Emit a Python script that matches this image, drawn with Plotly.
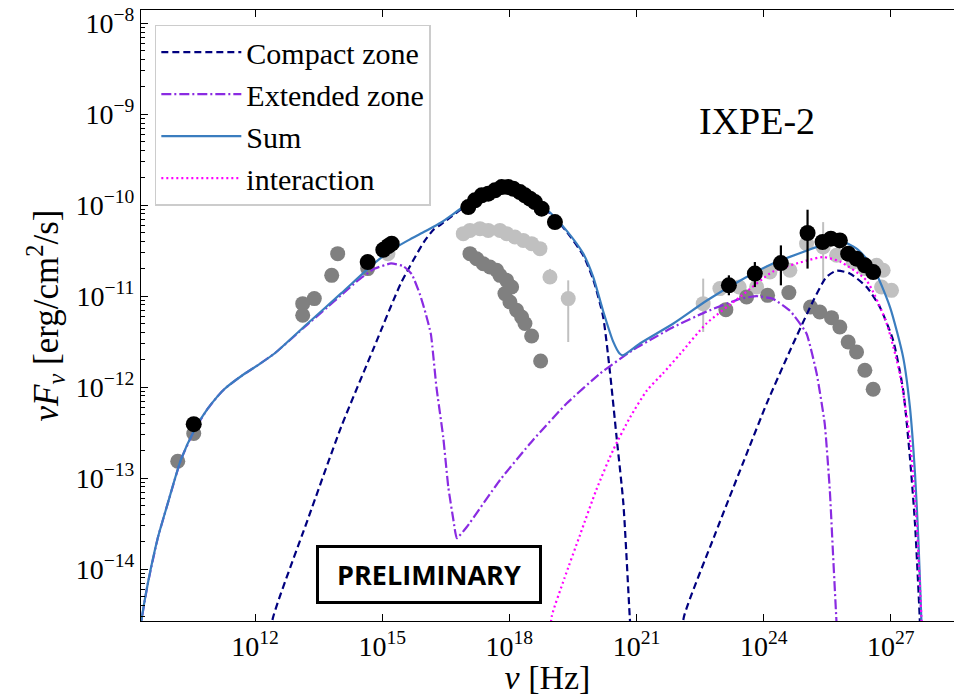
import numpy as np
import plotly.graph_objects as go

# ---- model curves (log10 nu [Hz], log10 nuFnu [erg/cm^2/s]) ----
compact_sy_lognu = [12.35, 12.42, 13.24, 14.03, 14.81, 15.44, 15.99, 16.21, 16.39, 16.91, 17.30, 17.80,
                    18.20, 18.60, 18.96, 19.35, 19.74, 19.98, 20.21, 20.37, 20.53, 20.69, 20.84, 20.88]
compact_sy_logf = [-14.80, -14.54, -13.46, -12.44, -11.56, -10.86, -10.40, -10.27, -10.21, -10.03, -9.92, -9.85,
                   -9.87, -9.96, -10.09, -10.29, -10.55, -10.82, -11.22, -11.82, -12.55, -13.28, -14.52, -14.80]

compact_ic_lognu = [22.05, 22.12, 22.85, 23.60, 24.08, 24.62, 25.17, 25.48, 25.72, 26.03, 26.43, 26.74,
                    27.05, 27.29, 27.45, 27.57, 27.68, 27.70]
compact_ic_logf = [-14.80, -14.52, -13.62, -12.73, -12.17, -11.60, -11.05, -10.79, -10.72, -10.75, -10.90, -11.12,
                   -11.48, -12.03, -12.77, -13.50, -14.52, -14.80]

extended_lognu = [9.25, 9.31, 9.47, 9.71, 9.94, 10.25, 10.57, 10.88, 11.10, 11.28, 11.67, 12.06, 12.46, 13.24,
                  13.71, 14.03, 14.42, 14.81, 15.21, 15.50, 15.70, 15.89, 16.02, 16.15, 16.28, 16.44, 16.56,
                  16.68, 16.76, 16.99, 17.78, 18.56, 19.35, 20.14, 20.92, 21.87, 22.65, 23.44, 23.83, 24.22,
                  24.62, 25.01, 25.25, 25.44, 25.56, 25.64, 25.72]
extended_logf = [-14.90, -14.60, -14.16, -13.65, -13.28, -12.80, -12.47, -12.24, -12.11, -12.02, -11.88, -11.76,
                 -11.63, -11.31, -11.12, -10.99, -10.83, -10.70, -10.64, -10.67, -10.76, -10.98, -11.18, -11.42,
                 -12.00, -12.55, -13.10, -13.46, -13.66, -13.54, -13.02, -12.58, -12.18, -11.85, -11.59, -11.34,
                 -11.17, -11.03, -11.00, -11.03, -11.16, -11.41, -11.85, -12.40, -13.13, -13.87, -14.60]

sum_lognu = [9.25, 9.31, 9.47, 9.71, 9.94, 10.25, 10.57, 10.88, 11.10, 11.28, 11.67, 12.06, 12.46, 13.24,
             14.03, 14.81, 15.20, 15.60, 16.00, 16.39, 16.91, 17.30, 17.80, 18.20, 18.60, 18.96, 19.35,
             19.74, 19.98, 20.21, 20.45, 20.60, 20.68, 21.08, 21.87, 22.65, 23.44, 24.22, 25.01, 25.50,
             25.80, 26.20, 26.58, 26.98, 27.29, 27.45, 27.57, 27.65, 27.72, 27.75]
sum_logf = [-14.90, -14.60, -14.16, -13.65, -13.28, -12.80, -12.47, -12.24, -12.11, -12.02, -11.88, -11.76,
            -11.63, -11.30, -10.97, -10.64, -10.50, -10.39, -10.29, -10.19, -10.02, -9.91, -9.84, -9.86,
            -9.95, -10.08, -10.28, -10.53, -10.79, -11.16, -11.50, -11.63, -11.65, -11.52, -11.30, -11.05,
            -10.83, -10.64, -10.50, -10.42, -10.39, -10.48, -10.68, -11.12, -11.67, -12.22, -12.95, -13.68,
            -14.56, -15.00]

inter_lognu = [18.95, 19.00, 19.30, 19.67, 20.05, 20.45, 20.85, 21.24, 21.62, 22.02, 22.65, 23.44, 24.22,
               25.01, 25.40, 25.80, 26.43, 26.90, 27.21, 27.45, 27.61, 27.72, 27.75]
inter_logf = [-14.80, -14.52, -14.10, -13.62, -13.13, -12.69, -12.33, -12.04, -11.85, -11.64, -11.30, -11.01,
              -10.73, -10.61, -10.57, -10.62, -10.83, -11.30, -11.85, -12.58, -13.50, -14.52, -14.80]

# ---- data points (log10 nu, log10 nuFnu) ----
# IXPE-2 epoch
ixpe2_lognu = [10.554, 14.658, 15.026, 15.144, 15.224,
               17.031, 17.189, 17.347, 17.502, 17.660, 17.818, 17.974, 18.092, 18.250, 18.368, 18.486,
               18.604, 18.762, 19.075,
               23.179, 23.792, 24.406, 25.035, 25.389, 25.585, 25.797, 25.993, 26.191, 26.387, 26.583]
ixpe2_logf = [-12.407, -10.625, -10.491, -10.449, -10.423,
              -10.021, -9.947, -9.892, -9.874, -9.837, -9.801, -9.801, -9.819, -9.856, -9.892, -9.929,
              -9.966, -10.038, -10.186,
              -10.881, -10.752, -10.636, -10.306, -10.405, -10.368, -10.387, -10.533, -10.588, -10.661, -10.735]
ixpe2_logf_hi = [None] * 19 + [-10.771, -10.625, -10.442, -10.050] + [None] * 7
ixpe2_logf_lo = [None] * 19 + [-10.990, -10.900, -10.881, -10.697] + [None] * 7

# low state (grey)
low_lognu = [10.177, 10.554, 13.125, 13.125, 13.399, 13.809, 13.950, 14.658,
             17.071, 17.229, 17.384, 17.543, 17.700, 17.778, 17.936, 18.054, 17.896, 18.014, 18.172,
             18.290, 18.368, 18.526, 18.738,
             23.108, 23.597, 24.092, 24.594, 25.106, 25.325, 25.601, 25.797, 25.993, 26.191, 26.387, 26.583]
low_logf = [-12.814, -12.510, -11.082, -11.210, -11.027, -10.771, -10.533, -10.697,
            -10.533, -10.588, -10.643, -10.680, -10.716, -10.771, -10.826, -10.900, -10.972, -11.064, -11.155,
            -11.229, -11.301, -11.438, -11.712,
            -11.148, -11.009, -10.991, -10.961, -11.119, -11.174, -11.236, -11.339, -11.504, -11.613,
            -11.814, -12.023]

# archival state (light grey)
arch_lognu = [15.135,
              16.913, 17.071, 17.307, 17.502, 17.778, 17.936, 18.132, 18.328, 18.526, 18.722, 18.958, 19.389,
              22.573, 22.967, 23.422, 23.833, 24.146, 24.618, 25.012, 25.403, 25.719, 26.111, 26.387,
              26.663, 26.818, 26.781, 27.016]
arch_logf = [-10.533,
             -10.313, -10.277, -10.258, -10.277, -10.277, -10.313, -10.350, -10.387, -10.423, -10.478,
             -10.790, -11.027,
             -11.082, -10.917, -10.900, -10.900, -10.735, -10.716, -10.423, -10.460, -10.551, -10.625,
             -10.697, -10.661, -10.716, -10.900, -10.936]
arch_logf_hi = [None] * 11 + [-10.70, -10.826, -10.807] + [None] * 6 + [-10.186] + [None] * 7
arch_logf_lo = [None] * 11 + [-10.86, -11.504, -11.394] + [None] * 6 + [-10.826] + [None] * 7

x_tick_exp = [12, 15, 18, 21, 24, 27]
y_tick_exp = [-14, -13, -12, -11, -10, -9, -8]


def lin(v):
    return 10.0 ** np.asarray(v, dtype=float)


def err_arrays(logf, hi, lo):
    plus, minus = [], []
    for f, h, l in zip(logf, hi, lo):
        plus.append(0.0 if h is None else 10 ** h - 10 ** f)
        minus.append(0.0 if l is None else 10 ** f - 10 ** l)
    return plus, minus


SERIF = "Liberation Serif, Times New Roman, serif"
SMOOTH = dict(shape="spline", smoothing=0.6)
fig = go.Figure()

# archival points
ap, am = err_arrays(arch_logf, arch_logf_hi, arch_logf_lo)
fig.add_trace(go.Scatter(
    x=lin(arch_lognu), y=lin(arch_logf), mode="markers", showlegend=False,
    marker=dict(size=15, color="#c0c0c0", line=dict(width=0)),
    error_y=dict(type="data", symmetric=False, array=ap, arrayminus=am,
                 color="#c0c0c0", thickness=2, width=0)))

# low-state points
fig.add_trace(go.Scatter(
    x=lin(low_lognu), y=lin(low_logf), mode="markers", showlegend=False,
    marker=dict(size=15, color="#808080", line=dict(width=0))))

# model components
fig.add_trace(go.Scatter(
    x=lin(compact_sy_lognu), y=lin(compact_sy_logf), mode="lines", name="Compact zone",
    legendgroup="compact", line=dict(color="#00007f", width=2.2, dash="7px,4px", **SMOOTH)))
fig.add_trace(go.Scatter(
    x=lin(compact_ic_lognu), y=lin(compact_ic_logf), mode="lines", showlegend=False,
    legendgroup="compact", line=dict(color="#00007f", width=2.2, dash="7px,4px", **SMOOTH)))
fig.add_trace(go.Scatter(
    x=lin(extended_lognu), y=lin(extended_logf), mode="lines", name="Extended zone",
    line=dict(color="#8a2be2", width=2.2, dash="10px,3px,2px,3px", shape="spline", smoothing=0.4)))
fig.add_trace(go.Scatter(
    x=lin(sum_lognu), y=lin(sum_logf), mode="lines", name="Sum",
    line=dict(color="#3a7dbf", width=2.2, **SMOOTH)))
fig.add_trace(go.Scatter(
    x=lin(inter_lognu), y=lin(inter_logf), mode="lines", name="interaction",
    line=dict(color="#ff00ff", width=2.2, dash="2px,3px", **SMOOTH)))

# IXPE-2 points
bp, bm = err_arrays(ixpe2_logf, ixpe2_logf_hi, ixpe2_logf_lo)
fig.add_trace(go.Scatter(
    x=lin(ixpe2_lognu), y=lin(ixpe2_logf), mode="markers", showlegend=False,
    marker=dict(size=16, color="black", line=dict(width=0)),
    error_y=dict(type="data", symmetric=False, array=bp, arrayminus=bm,
                 color="black", thickness=2.2, width=0)))

minor_y = [k * 10.0 ** e for e in range(-15, -7) for k in range(2, 10)]

fig.update_layout(
    width=954, height=696,
    margin=dict(l=141, r=0, t=10, b=75),
    paper_bgcolor="white", plot_bgcolor="white",
    font=dict(family=SERIF, color="black"),
    legend=dict(x=0.017, y=0.976, xanchor="left", yanchor="top",
                font=dict(family=SERIF, size=30, color="black"),
                bgcolor="rgba(255,255,255,0.8)", bordercolor="#cccccc", borderwidth=1.5,
                tracegroupgap=0, itemwidth=80),
    xaxis=dict(
        type="log", range=[9.31, 28.49],
        tickvals=[10.0 ** e for e in x_tick_exp],
        ticktext=[f"10<sup>{e}</sup>" for e in x_tick_exp],
        ticks="inside", ticklen=7, tickwidth=1, tickcolor="black",
        showline=True, linecolor="black", linewidth=1.2, mirror="ticks",
        showgrid=False, zeroline=False,
        tickfont=dict(family=SERIF, size=28),
        title=dict(text="<i>ν</i> [Hz]", font=dict(family=SERIF, size=34), standoff=2),
    ),
    yaxis=dict(
        type="log", range=[-14.57, -7.855],
        tickvals=[10.0 ** e for e in y_tick_exp],
        ticktext=[f"10<sup>−{-e}</sup>" for e in y_tick_exp],
        ticks="inside", ticklen=7, tickwidth=1, tickcolor="black",
        minor=dict(tickvals=minor_y, ticks="inside", ticklen=4, tickwidth=1,
                   tickcolor="black", showgrid=False),
        showline=True, linecolor="black", linewidth=1.2,
        showgrid=False, zeroline=False,
        tickfont=dict(family=SERIF, size=28),
        title=dict(text="<i>νF</i><sub><i>ν</i></sub> [erg/cm<sup>2</sup>/s]",
                   font=dict(family=SERIF, size=35), standoff=6),
    ),
    annotations=[
        dict(text="IXPE-2", xref="paper", yref="paper", x=0.7577, y=0.818,
             xanchor="center", yanchor="middle", showarrow=False,
             font=dict(family=SERIF, size=38, color="black")),
        dict(text="<b>PRELIMINARY</b>", xref="paper", yref="paper", x=0.3542, y=0.0769,
             xanchor="center", yanchor="middle", showarrow=False,
             font=dict(family="Open Sans, Noto Sans, sans-serif", size=27, color="black"),
             bordercolor="black", borderwidth=3, borderpad=0, bgcolor="white",
             width=220, height=53),
    ],
)

fig.write_html("out.html")
